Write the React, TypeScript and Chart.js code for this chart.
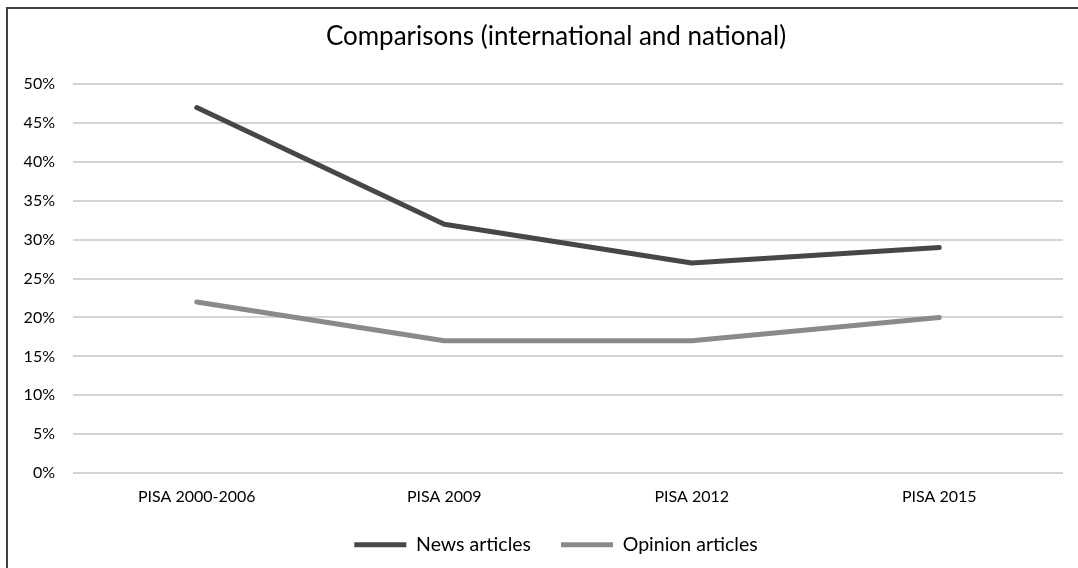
import React, { useEffect, useRef } from "react";
import { Chart, registerables } from "chart.js";

Chart.register(...registerables);

const categories = ["PISA 2000-2006", "PISA 2009", "PISA 2012", "PISA 2015"];
const newsArticles = [47, 32, 27, 29];
const opinionArticles = [22, 17, 17, 20];

const FONT = "Lato, 'Open Sans', sans-serif";
const CANVAS_W = 1095;
const CANVAS_H = 568;

export default function App() {
  const canvasRef = useRef<HTMLCanvasElement | null>(null);

  useEffect(() => {
    const canvas = canvasRef.current;
    if (!canvas) return;
    const chart = new Chart(canvas, {
      type: "line",
      data: {
        labels: categories,
        datasets: [
          {
            label: "News articles",
            data: newsArticles,
            borderColor: "#474747",
            backgroundColor: "#474747",
            borderWidth: 5,
            borderCapStyle: "round",
            borderJoinStyle: "round",
            pointRadius: 0,
            pointStyle: "line",
            tension: 0,
          },
          {
            label: "Opinion articles",
            data: opinionArticles,
            borderColor: "#8a8a8a",
            backgroundColor: "#8a8a8a",
            borderWidth: 5,
            borderCapStyle: "round",
            borderJoinStyle: "round",
            pointRadius: 0,
            pointStyle: "line",
            tension: 0,
          },
        ],
      },
      options: {
        animation: false,
        responsive: false,
        layout: { padding: { left: 17, right: 0, top: 0, bottom: 3.5 } },
        plugins: {
          title: {
            display: true,
            text: "Comparisons (international and national)",
            color: "#000000",
            font: { family: FONT, size: 26, weight: "normal", lineHeight: 1.2 },
            padding: { top: 21, bottom: 32 },
          },
          legend: {
            display: true,
            position: "bottom",
            labels: {
              usePointStyle: true,
              pointStyleWidth: 52,
              boxHeight: 5,
              color: "#000000",
              padding: 30,
              font: { family: FONT, size: 19.5, lineHeight: 1.2 },
            },
          },
          tooltip: { enabled: false },
        },
        scales: {
          x: {
            offset: true,
            afterFit: (scale: any) => {
              scale.height = 32;
            },
            grid: { display: false, drawTicks: false },
            border: { display: false },
            ticks: {
              color: "#000000",
              padding: 16,
              font: { family: FONT, size: 16, lineHeight: 1.0 },
            },
          },
          y: {
            min: 0,
            max: 50,
            afterFit: (scale: any) => {
              scale.width = 56;
            },
            grid: { color: "#d4d4d4", lineWidth: 2, drawTicks: false },
            border: { display: false },
            ticks: {
              stepSize: 5,
              color: "#000000",
              padding: 18,
              font: { family: FONT, size: 16 },
              callback: (v: any) => `${v}%`,
            },
          },
          // empty right-hand gutter that keeps the title and legend centred on the frame
          gutter: {
            type: "linear",
            position: "right",
            display: true,
            afterFit: (scale: any) => {
              scale.width = 32;
            },
            grid: { display: false, drawTicks: false },
            border: { display: false },
            ticks: { display: false },
          },
        },
      },
    });
    return () => chart.destroy();
  }, []);

  return (
    <div
      style={{
        position: "fixed",
        left: 0,
        top: 0,
        width: 1078,
        height: 568,
        background: "#ffffff",
        overflow: "hidden",
      }}
    >
      <div
        style={{
          position: "absolute",
          left: 6,
          top: 7,
          width: 1200,
          height: 700,
          border: "2px solid #404040",
          boxSizing: "border-box",
        }}
      />
      <canvas
        ref={canvasRef}
        width={CANVAS_W}
        height={CANVAS_H}
        style={{ position: "absolute", left: 0, top: 0, width: CANVAS_W, height: CANVAS_H }}
      />
    </div>
  );
}
